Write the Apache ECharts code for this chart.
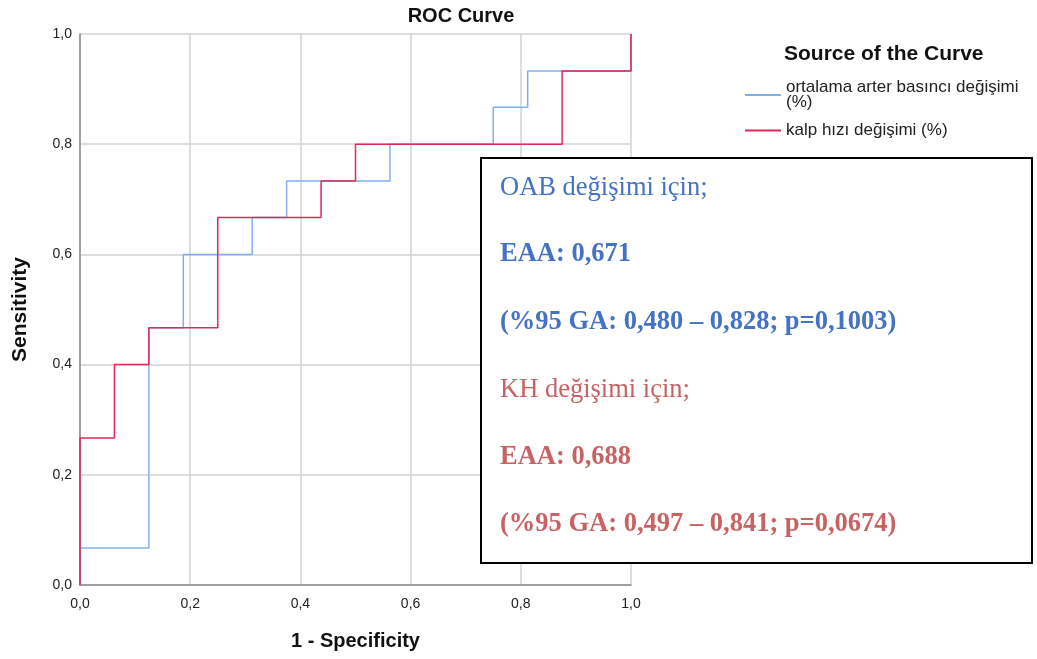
<!DOCTYPE html>
<html>
<head>
    <meta charset="utf-8">
    <script src="https://cdn.jsdelivr.net/npm/echarts@6/dist/echarts.min.js"></script>
    <style>
        html, body { margin: 0; padding: 0; background: #fff; }
        #chart { width: 1037px; height: 659px; }
    </style>
</head>
<body>
    <div id="chart"></div>
    <script type="text/javascript">
        // ROC koordinatları (1 - özgüllük, duyarlılık)
        var oabFpr = [0, 0, 0.125, 0.125, 0.1875, 0.1875, 0.3125, 0.3125, 0.375, 0.375, 0.5625, 0.5625, 0.75, 0.75, 0.8125, 0.8125, 1, 1];
        var oabTpr = [0, 0.067, 0.067, 0.467, 0.467, 0.6, 0.6, 0.667, 0.667, 0.733, 0.733, 0.8, 0.8, 0.867, 0.867, 0.933, 0.933, 1];
        var khFpr = [0, 0, 0.0625, 0.0625, 0.125, 0.125, 0.25, 0.25, 0.4375, 0.4375, 0.5, 0.5, 0.875, 0.875, 1, 1];
        var khTpr = [0, 0.267, 0.267, 0.4, 0.4, 0.467, 0.467, 0.667, 0.667, 0.733, 0.733, 0.8, 0.8, 0.933, 0.933, 1];
        var seriesNames = ['ortalama arter basıncı değişimi (%)', 'kalp hızı değişimi (%)'];
        var noteLines = [
            'OAB değişimi için;',
            'EAA: 0,671',
            '(%95 GA: 0,480 – 0,828; p=0,1003)',
            'KH değişimi için;',
            'EAA: 0,688',
            '(%95 GA: 0,497 – 0,841; p=0,0674)'
        ];

        function pairs(xs, ys) {
            var out = [];
            for (var i = 0; i < xs.length; i++) out.push([xs[i], ys[i]]);
            return out;
        }

        function comma(v) { return v.toFixed(1).replace('.', ','); }

        var myChart = echarts.init(document.getElementById('chart'));

        // kutudaki metinler
        var noteY = [186, 252, 320, 388, 455, 522];
        var noteText = [];
        for (var i = 0; i < noteLines.length; i++) {
            var blue = i < 3;
            var bold = (i % 3) !== 0;
            noteText.push({
                type: 'text',
                left: 500,
                top: noteY[i] - 11,
                style: {
                    text: noteLines[i],
                    fill: blue ? '#4472c4' : '#c96262',
                    font: (bold ? 'bold ' : '') + '26.5px "Liberation Serif", "Times New Roman", serif'
                },
                z: 101
            });
        }

        var sans = 'Liberation Sans, Arial, sans-serif';
        var option = {
            backgroundColor: '#ffffff',
            animation: false,
            title: [{
                text: 'ROC Curve',
                left: 456,
                top: 1,
                textAlign: 'center',
                textStyle: { fontFamily: sans, fontWeight: 'bold', fontSize: 20, color: '#111' }
            }, {
                text: 'Source of the Curve',
                left: 779,
                top: 39,
                textStyle: { fontFamily: sans, fontWeight: 'bold', fontSize: 21, color: '#111' }
            }],
            legend: {
                orient: 'vertical',
                left: 740,
                top: 74,
                icon: 'rect',
                itemWidth: 36,
                itemHeight: 2,
                itemGap: 11,
                data: seriesNames,
                formatter: function (name) {
                    return name === seriesNames[0] ? 'ortalama arter basıncı değişimi\n(%)' : name;
                },
                textStyle: { fontFamily: sans, fontSize: 17, color: '#222', lineHeight: 15 }
            },
            grid: { left: 80, right: 406, top: 34, bottom: 74 },
            xAxis: {
                type: 'value',
                min: 0, max: 1, interval: 0.2,
                name: '1 - Specificity',
                nameLocation: 'middle',
                nameGap: 46,
                nameTextStyle: { fontFamily: sans, fontWeight: 'bold', fontSize: 20, color: '#111' },
                axisLine: { lineStyle: { color: '#8a8a8a', width: 1.5 } },
                axisTick: { show: false },
                axisLabel: { margin: 12, fontFamily: sans, fontSize: 14, color: '#222', formatter: comma },
                splitLine: { show: true, lineStyle: { color: '#d2d2d2', width: 1.5 } }
            },
            yAxis: {
                type: 'value',
                min: 0, max: 1, interval: 0.2,
                name: 'Sensitivity',
                nameLocation: 'middle',
                nameGap: 49,
                nameTextStyle: { fontFamily: sans, fontWeight: 'bold', fontSize: 21, color: '#111' },
                axisLine: { show: true, lineStyle: { color: '#8a8a8a', width: 1.5 } },
                axisTick: { show: false },
                axisLabel: { margin: 8, fontFamily: sans, fontSize: 14, color: '#222', formatter: comma },
                splitLine: { show: true, lineStyle: { color: '#d2d2d2', width: 1.5 } }
            },
            series: [{
                name: seriesNames[0],
                type: 'line',
                symbol: 'none',
                data: pairs(oabFpr, oabTpr),
                lineStyle: { color: '#7eb0ef', width: 1.5 },
                itemStyle: { color: '#7eb0ef' },
                z: 3
            }, {
                name: seriesNames[1],
                type: 'line',
                symbol: 'none',
                data: pairs(khFpr, khTpr),
                lineStyle: { color: '#e0285a', width: 1.5 },
                itemStyle: { color: '#e0285a' },
                z: 4
            }],
            graphic: [{
                type: 'rect',
                shape: { x: 481, y: 158, width: 551, height: 405 },
                style: { fill: '#ffffff', stroke: '#000000', lineWidth: 2 },
                z: 100
            }].concat(noteText)
        };
        myChart.setOption(option);
    </script>
</body>
</html>
